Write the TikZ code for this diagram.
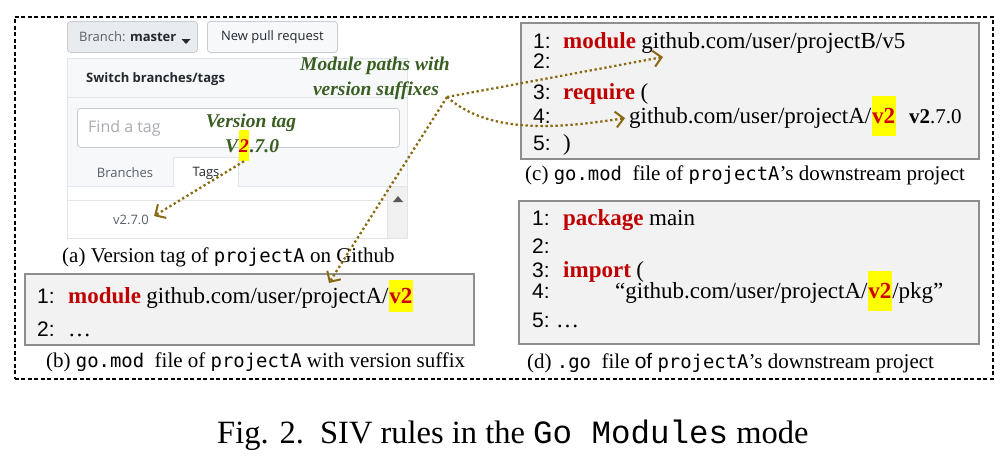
\documentclass[tikz,border=0pt]{standalone}
\usepackage{fontspec}
\setmainfont{Liberation Serif}
\newfontfamily\ghfont{Open Sans}
\newfontfamily\lnfont{Liberation Sans}
\newfontfamily\capmono{DejaVu Sans Mono}[Scale=0.9]
\newfontfamily\figmono{Liberation Mono}
\usetikzlibrary{arrows.meta}
\definecolor{kwred}{HTML}{C00000}
\definecolor{hlred}{HTML}{D00000}
\definecolor{lblgreen}{HTML}{3B5E22}
\definecolor{arrowc}{HTML}{8A6A10}
\definecolor{boxfill}{HTML}{F2F2F2}
\definecolor{boxdraw}{HTML}{8E8E8E}
\definecolor{ghbg}{HTML}{F6F8FA}
\definecolor{ghbtnsel}{HTML}{E9ECEF}
\definecolor{ghbtnborder}{HTML}{C8CCD1}
\definecolor{ghborder}{HTML}{E1E4E8}
\definecolor{ghtext}{HTML}{24292E}
\definecolor{ghgray}{HTML}{586069}
\definecolor{ghplace}{HTML}{A8ACB0}
\definecolor{ghscroll}{HTML}{F0F0F0}
\definecolor{hlyellow}{HTML}{FFFF00}
\newcommand\codesize{\fontsize{23pt}{26pt}\selectfont}
\newcommand\capsize{\fontsize{21pt}{25pt}\selectfont}
\newcommand\lblsize{\fontsize{19.5pt}{23pt}\selectfont}
\newcommand\ghsize{\fontsize{13pt}{15pt}\selectfont}
\begin{document}
\begin{tikzpicture}[x=1pt,y=-1pt,
  codebox/.style={draw=boxdraw, fill=boxfill, line width=1.5pt, inner sep=0pt, anchor=north west},
  codetxt/.style={font=\codesize, inner sep=0pt, anchor=base west},
  kwtxt/.style={font=\codesize\bfseries, text=kwred, inner sep=0pt, anchor=base west},
  hlbox/.style={font=\codesize\bfseries, text=hlred, fill=hlyellow, inner xsep=0.5pt, inner ysep=0pt, minimum height=40pt, anchor=base west},
  lnum/.style={font=\lnfont\fontsize{21pt}{24pt}\selectfont, inner sep=0pt, anchor=base west},
  captxt/.style={font=\capsize, inner sep=0pt, anchor=base west},
  lbl/.style={font=\lblsize\bfseries\itshape, text=lblgreen, inner sep=0pt, anchor=base},
  ghbtn/.style={draw=ghbtnborder, rounded corners=3pt, line width=0.8pt, anchor=north west, inner sep=0pt},
  ghtxt/.style={font=\ghfont\ghsize, text=ghtext, inner sep=0pt},
  flowarrow/.style={draw=arrowc, line width=2.3pt, dash pattern=on 2.3pt off 2.7pt,
    -{Straight Barb[length=8pt,width=16pt,line width=2pt]}},
  frame/.style={draw=black, line width=1.5pt, dash pattern=on 4pt off 2.5pt, anchor=north west, inner sep=0pt}
]
\useasboundingbox (0,0) rectangle (1008,458);
% outer frame
\node[frame, minimum width=978pt, minimum height=362pt] (outer) at (14,16) {};

% ---------------- GitHub screenshot ----------------
\node[ghbtn, fill=ghbtnsel, minimum width=130pt, minimum height=31pt] (branchbtn) at (67,21) {};
\node[ghtxt, anchor=west] (branchtxt) at (79,37) {\textcolor{ghgray}{Branch:} \textbf{master}};
\fill[ghtext] ([xshift=5pt,yshift=-2pt]branchtxt.east) -- ++(9,0) -- ++(-4.5,5) -- cycle;
\node[ghbtn, fill=ghbg, minimum width=130pt, minimum height=31pt] (newpr) at (207,21) {};
\node[ghtxt] (newprtxt) at (newpr.center) {New pull request};

\node[draw=ghborder, fill=white, line width=0.8pt, anchor=north west, inner sep=0pt,
  minimum width=340pt, minimum height=180pt] (panel) at (67,58) {};
\fill[ghbg] (67.5,58.5) rectangle (406.5,186);
\draw[ghborder, line width=0.8pt] (67,97) -- (407,97);
\node[ghtxt, anchor=west, font=\ghfont\fontsize{13pt}{15pt}\selectfont\bfseries] (switchtxt) at (86,79) {Switch branches/tags};
\node[draw=ghbtnborder, fill=white, rounded corners=3pt, line width=0.8pt, anchor=north west, inner sep=0pt,
  minimum width=322pt, minimum height=39pt] (findbox) at (77,108) {};
\node[ghtxt, anchor=west, text=ghplace, font=\ghfont\fontsize{16pt}{19pt}\selectfont] (findtxt) at (88,128) {Find a tag};
\fill[white] (173,157) rectangle (238,186.5);
\draw[ghborder, line width=0.8pt] (67,186) -- (173,186) -- (173,157) -- (238,157) -- (238,186) -- (407,186);
\node[ghtxt, text=ghgray] (branchestab) at (125,173) {Branches};
\node[ghtxt] (tagstab) at (206,173) {Tags};
\fill[ghscroll] (387,186.5) rectangle (406.5,237.5);
\draw[ghborder, line width=0.8pt] (67,200) -- (387,200);
\draw[ghborder, line width=0.6pt] (387,186) -- (387,238);
\fill[black!65] (393,202) -- (403,202) -- (398,196) -- cycle;
\node[ghtxt, text=ghgray] (tagitem) at (131,220) {v2.7.0};

% ---------------- green labels ----------------
\node[lbl] (modlbl1) at (375,70) {Module paths with};
\node[lbl] (modlbl2) at (376,95) {version suffixes};
\node[lbl] (vtaglbl) at (251,127) {Version tag};
\node[lbl, anchor=base west] (vV) at (225,152) {V};
\node[lbl, anchor=base west, fill=hlyellow, text=hlred, inner xsep=0.5pt, minimum height=31pt] (vtwo) at (vV.base east) {2};
\node[lbl, anchor=base west] (vrest) at (vtwo.base east) {.7.0};

% ---------------- box (b) ----------------
\node[codebox, minimum width=449pt, minimum height=71pt] (boxb) at (24,273) {};
\node[lnum] (b1n) at (37,303) {1:};
\node[kwtxt] (b1k) at (68,303) {module};
\node[codetxt] (b1p) at ([xshift=5pt]b1k.base east) {github.com/user/projectA/};
\node[hlbox, minimum height=32pt] (b1v) at (b1p.base east) {v2};
\node[lnum] (b2n) at (37,336) {2:};
\node[codetxt] (b2t) at (68,336) {\dots};
\node[captxt] (capb) at (46,367) {(b) {\capmono go.mod}\ \ file of {\capmono projectA} with version suffix};
\node[captxt] (capa) at (62,262) {(a) Version tag of {\capmono projectA} on Github};

% ---------------- box (c) ----------------
\node[codebox, minimum width=458pt, minimum height=136pt] (boxc) at (520,22) {};
\node[lnum] (c1n) at (533,48) {1:};
\node[kwtxt] (c1k) at (563,48) {module};
\node[codetxt] (c1t) at ([xshift=5pt]c1k.base east) {github.com/user/projectB/v5};
\node[lnum] (c2n) at (533,68) {2:};
\node[lnum] (c3n) at (533,99) {3:};
\node[kwtxt] (c3k) at (563,99) {require};
\node[codetxt] (c3t) at ([xshift=5pt]c3k.base east) {(};
\node[lnum] (c4n) at (533,123) {4:};
\node[codetxt] (c4p) at (629,123) {github.com/user/projectA/};
\node[hlbox] (c4v) at (c4p.base east) {v2};
\node[codetxt, font=\fontsize{21pt}{24pt}\selectfont] (c4r) at ([xshift=13pt]c4v.base east) {\textbf{v2}.7.0};
\node[lnum] (c5n) at (533,150) {5:};
\node[codetxt] (c5t) at (563,150) {)};
\node[captxt] (capc) at (525,180) {(c) {\capmono go.mod}\ \ file of {\capmono projectA}’s downstream project};

% ---------------- box (d) ----------------
\node[codebox, minimum width=460pt, minimum height=143pt] (boxd) at (518,200) {};
\node[lnum] (d1n) at (532,225) {1:};
\node[kwtxt] (d1k) at (563,225) {package};
\node[codetxt] (d1t) at ([xshift=5pt]d1k.base east) {main};
\node[lnum] (d2n) at (532,253) {2:};
\node[lnum] (d3n) at (532,277) {3:};
\node[kwtxt] (d3k) at (563,277) {import};
\node[codetxt] (d3t) at ([xshift=5pt]d3k.base east) {(};
\node[lnum] (d4n) at (532,298) {4:};
\node[codetxt] (d4p) at (615,298) {“github.com/user/projectA/};
\node[hlbox] (d4v) at (d4p.base east) {v2};
\node[codetxt] (d4r) at (d4v.base east) {/pkg”};
\node[lnum] (d5n) at (532,327) {5:};
\node[codetxt] (d5t) at (556,327) {\dots};
\node[captxt] (capd) at (527,368) {(d) {\capmono .go}\ \ file {\lnfont of} {\capmono projectA}’s downstream project};

% ---------------- figure caption ----------------
\node[inner sep=0pt, anchor=base west, font=\fontsize{32.5pt}{38pt}\selectfont] (figcap) at (217,443)
  {Fig. 2.\ \ SIV rules in the {\figmono Go Modules} mode};

% ---------------- arrows ----------------
\coordinate (hub) at (447,97);
\coordinate (tagtip) at ([xshift=5pt,yshift=-1pt]tagitem.north east);
\coordinate (btip) at (329,283);
\coordinate (ctip) at (663,57);
\draw[flowarrow] (vtwo.south) -- (tagtip);
\draw[flowarrow] (hub) -- (btip);
\draw[flowarrow] (hub) -- (ctip);
\draw[flowarrow, shorten >=4pt] (hub) .. controls (490,135) and (560,128) .. (c4p.west);
\end{tikzpicture}
\end{document}
